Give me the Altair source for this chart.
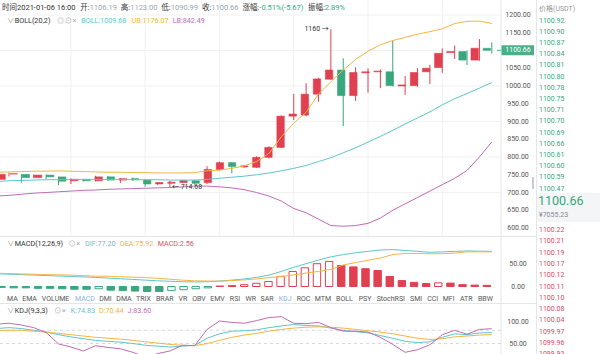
import altair as alt
import pandas as pd

FONT = "Roboto, 'Noto Sans CJK SC', sans-serif"
UP = "#e0404f"
DOWN = "#3aa67e"
TEAL = "#5fc5cb"
ORANGE = "#f3b544"
PURPLE = "#c26bb5"
DARK = "#333333"
LIGHT = "#9aa4b0"
GRAY = "#777777"
GRID = "#f0f1f3"
SEP = "#e4e6ea"

# ---------------- data ----------------
opens = [737, 752, 751, 742, 749, 744, 733, 737, 733, 744, 735, 739, 735, 724, 726, 728, 733,
         728, 765, 784, 772, 771, 799, 827, 915, 918, 977, 1019, 1045, 973, 1037, 1040, 1040,
         1000, 1001, 1040, 1052, 1094, 1097, 1073, 1106.19]
highs = [753, 756, 752, 751, 751, 745, 740, 738, 747, 746, 741, 742, 737, 729, 733, 735, 736,
         774, 787, 786, 778, 802, 830, 917, 978, 1008, 1023, 1160, 1078, 1053, 1050, 1047, 1128,
         1028, 1050, 1060, 1106, 1114, 1100, 1132, 1123.00]
lows = [735, 745, 728, 740, 738, 721, 724, 731, 731, 733, 727, 733, 716, 722, 714.68, 726, 722,
        724, 762, 754, 770, 769, 796, 825, 904, 915, 956, 1018, 887, 958, 981, 994, 999,
        975, 998, 1005, 1037, 1076, 1059, 1071, 1090.99]
closes = [751, 753, 742, 749, 744, 732, 737, 733, 744, 735, 739, 736, 724, 728, 729, 733.5, 726,
          765, 784, 773, 775, 799, 827, 915, 921, 977, 1020, 1045, 973, 1038, 1040, 1042, 1001,
          1003, 1038, 1050, 1092, 1097, 1073, 1106.33, 1100.66]

boll_mid = [731, 733, 734, 735, 736, 736, 737, 737, 737, 737, 737, 736, 736, 736, 735, 735, 735,
            737, 740, 743, 746, 750, 755, 761, 768, 776, 787, 798, 812, 826, 842, 858, 875,
            893, 910, 927, 947, 964, 979, 994, 1009.68]
boll_up = [757, 758, 759, 760, 760, 761, 760, 759, 758, 757, 757, 756, 756, 755, 755, 755, 756,
           761, 763, 768, 775, 787, 810, 857, 895, 926, 977, 1012, 1045, 1075, 1098, 1116, 1128,
           1137, 1146, 1153, 1161, 1176, 1182, 1183, 1176.07]
boll_low = [690, 692, 695, 698, 700, 702, 704, 706, 707, 709, 710, 711, 712, 713, 714, 716, 718,
            718, 716, 713, 708, 700, 690, 676, 655, 643, 625, 607, 605, 607, 613, 628, 650,
            668, 686, 704, 722, 740, 762, 800, 842.49]

dif = [28, 27, 26, 25, 24, 23, 22, 21, 20, 18.5, 17, 15.5, 14, 12.5, 11.5, 10.5, 10,
       10.5, 12, 14, 16.5, 20, 25, 33, 42, 50, 58, 65, 70, 74, 77, 80, 81,
       79, 77, 75, 76, 77, 78, 77.5, 77.20]
dea = [29, 28.5, 27.5, 27, 26, 25.5, 25, 24, 22.5, 22.5, 21.5, 20.5, 19.5, 18, 16, 14, 12.5,
       12, 11.5, 13, 14.5, 16.5, 19.5, 22, 25.5, 29.5, 33, 37.5, 47, 52.5, 57.5, 62.5, 70,
       72.5, 72.5, 71.8, 72, 73.3, 76, 76, 75.92]
macd_hist = [-2, -3, -3, -4, -4, -5, -6, -6, -5, -8, -9, -10, -11, -11, -9, -7, -5,
             -3, 1, 2, 4, 7, 11, 22, 33, 41, 50, 55, 46, 43, 39, 35, 22,
             13, 9, 6.5, 8, 7.5, 4, 3, 2.56]

k_vals = [84, 86, 84, 80, 76, 70, 65, 61, 57, 55, 53, 50, 46, 44, 42, 44, 46,
          62, 72, 78, 79, 81, 86, 90, 93, 91, 90, 85, 80, 77, 74, 68, 62,
          55, 52, 54, 64, 72, 70, 74, 74.83]
d_vals = [79, 80, 80, 78, 76, 73, 70, 67, 64, 62, 60, 57, 54, 51, 48, 46, 45,
          50, 57, 64, 69, 73, 78, 82, 85, 87, 88, 87, 85, 82, 79, 76, 72,
          67, 62, 59, 61, 65, 67, 69, 70.44]
j_vals = [94, 96, 92, 86, 75, 49, 42, 33, 45, 41, 38, 30, 19, 27, 33, 46, 45,
          82, 101, 98, 96, 102, 109, 111, 96, 95, 98, 86, 78, 78, 76, 64, 48,
          30, 36, 47, 70, 80, 71, 82, 83.60]

price_ticks = [600, 650, 700, 750, 800, 850, 900, 950, 1000, 1050, 1100, 1150, 1200]
price_grid = [700, 800, 900, 1000, 1100, 1200]
grid_idx = [6, 12, 18, 24, 30, 36]
macd_ticks = [0, 50]
kdj_ticks = [50, 100]
kdj_dash = [50, 80]

ask_prices = ["1100.92", "1100.90", "1100.87", "1100.84", "1100.81", "1100.80", "1100.78",
              "1100.75", "1100.71", "1100.70", "1100.69", "1100.66", "1100.61", "1100.60",
              "1100.59", "1100.47"]
bid_prices = ["1100.22", "1100.21", "1100.19", "1100.17", "1100.12", "1100.11", "1100.10",
              "1100.08", "1100.04", "1099.97", "1099.96", "1099.93"]
last_price = "1100.66"
last_cny = "¥7055.23"

tabs = ["MA", "EMA", "VOLUME", "MACD", "DMI", "DMA", "TRIX", "BRAR", "VR", "OBV", "EMV", "RSI",
        "WR", "SAR", "KDJ", "ROC", "MTM", "BOLL", "PSY", "StochRSI", "SMI", "CCI", "MFI", "ATR", "BBW"]
active_tabs = ["MACD", "KDJ"]

# ---------------- helpers ----------------
def tw(s, fs):
    w = 0.0
    for ch in s:
        if ord(ch) > 0x2E80:
            w += 1.0
        elif ch.isdigit():
            w += 0.562
        elif ch in ".:, ":
            w += 0.25
        elif ch == "-":
            w += 0.33
        elif ch == "%":
            w += 0.73
        elif ch in "()":
            w += 0.34
        elif ch in "MW":
            w += 0.87
        elif ch == "I":
            w += 0.28
        elif ch.isupper():
            w += 0.64
        elif ch in "il":
            w += 0.24
        elif ch in "tr":
            w += 0.34
        else:
            w += 0.52
    return w * fs


def flow(segs, x0, y, fs):
    rows = []
    x = x0
    for t, col, gap in segs:
        x += gap
        rows.append({"x": x, "y": y, "t": t, "col": col})
        x += tw(t, fs)
    return rows


def px_text(rows, fs, align="left", weight="normal"):
    df = pd.DataFrame(rows)
    return alt.Chart(df).mark_text(font=FONT, fontSize=fs, align=align, baseline="middle",
                                   fontWeight=weight).encode(
        x=alt.X("x:Q", scale=None, axis=None),
        y=alt.Y("y:Q", scale=None, axis=None),
        text="t:N",
        color=alt.Color("col:N", scale=None),
    )


def px_rule(rows, width=1, dash=None):
    df = pd.DataFrame(rows)
    kw = {"strokeWidth": width}
    if dash:
        kw["strokeDash"] = dash
    return alt.Chart(df).mark_rule(**kw).encode(
        x=alt.X("x:Q", scale=None, axis=None), x2="x2:Q",
        y=alt.Y("y:Q", scale=None, axis=None), y2="y2:Q",
        color=alt.Color("col:N", scale=None),
    )


XS = alt.Scale(domain=[0, 40], range=[-3.4, 491.8])
YM = alt.Scale(domain=[600, 1200], range=[228, 15])
YD = alt.Scale(domain=[0, 50], range=[286.5, 263.7])
YK = alt.Scale(domain=[50, 100], range=[343.5, 321.5])

idx = list(range(len(opens)))
X = alt.X("i:Q", scale=XS, axis=None)

layers = []

# background order-book band
layers.append(alt.Chart(pd.DataFrame([{"x": 537, "x2": 600, "y": 193, "y2": 222}])).mark_rect(
    color="#f4f5f7").encode(x=alt.X("x:Q", scale=None, axis=None), x2="x2:Q",
                            y=alt.Y("y:Q", scale=None, axis=None), y2="y2:Q"))

# separators
layers.append(px_rule([
    {"x": 501, "x2": 501, "y": 0, "y2": 354, "col": SEP},
    {"x": 536.5, "x2": 536.5, "y": 0, "y2": 354, "col": SEP},
    {"x": 0, "x2": 536.5, "y": 236.5, "y2": 236.5, "col": SEP},
    {"x": 0, "x2": 536.5, "y": 303.5, "y2": 303.5, "col": SEP},
]))
layers.append(px_rule([{"x": 533, "x2": 533, "y": 177, "y2": 189, "col": "#c9ccd1"}], width=2))

# main grid
layers.append(alt.Chart(pd.DataFrame({"i": grid_idx})).mark_rule(color=GRID, strokeWidth=1).encode(
    x=X, y=alt.value(0), y2=alt.value(236)))
layers.append(alt.Chart(pd.DataFrame({"v": price_grid})).mark_rule(color=GRID, strokeWidth=1).encode(
    y=alt.Y("v:Q", scale=YM, axis=None), x=alt.value(0), x2=alt.value(501)))

# KDJ dashed levels
layers.append(alt.Chart(pd.DataFrame({"v": kdj_dash})).mark_rule(
    color="#d5d8dc", strokeWidth=1, strokeDash=[3, 3]).encode(
    y=alt.Y("v:Q", scale=YK, axis=None), x=alt.value(0), x2=alt.value(501)))

# candles
cand = pd.DataFrame({"i": idx, "o": opens, "h": highs, "l": lows, "c": closes})
cand["col"] = [UP if c >= o else DOWN for o, c in zip(opens, closes)]
layers.append(alt.Chart(cand).mark_rule(strokeWidth=1, clip=True).encode(
    x=X, y=alt.Y("l:Q", scale=YM, axis=None), y2="h:Q", color=alt.Color("col:N", scale=None)))
layers.append(alt.Chart(cand).mark_bar(size=7.4, orient="vertical", clip=True, strokeWidth=0.6).encode(
    x=X, y=alt.Y("o:Q", scale=YM, axis=None), y2="c:Q",
    color=alt.Color("col:N", scale=None), stroke=alt.Stroke("col:N", scale=None)))

# bollinger
boll = pd.DataFrame({"i": idx, "mb": boll_mid, "ub": boll_up, "lb": boll_low})
for fld, col in [("mb", TEAL), ("ub", ORANGE), ("lb", PURPLE)]:
    layers.append(alt.Chart(boll).mark_line(color=col, strokeWidth=1, clip=True).encode(
        x=X, y=alt.Y(f"{fld}:Q", scale=YM, axis=None)))

# high / low annotations
hi_i = highs.index(max(highs))
lo_i = lows.index(min(lows))
ann_hi = pd.DataFrame({"i": [hi_i], "v": [highs[hi_i]], "t": [f"{highs[hi_i]:g} →"]})
ann_lo = pd.DataFrame({"i": [lo_i], "v": [lows[lo_i]], "t": [f"← {lows[lo_i]:.2f}"]})
layers.append(alt.Chart(ann_hi).mark_text(font=FONT, fontSize=7, align="right", baseline="middle",
                                          dx=-2, color=DARK).encode(
    x=X, y=alt.Y("v:Q", scale=YM, axis=None), text="t:N"))
layers.append(alt.Chart(ann_lo).mark_text(font=FONT, fontSize=7, align="left", baseline="middle",
                                          dx=2, color=DARK).encode(
    x=X, y=alt.Y("v:Q", scale=YM, axis=None), text="t:N"))

# MACD
hollow = [False] + [macd_hist[k] > macd_hist[k - 1] for k in range(1, len(macd_hist))]
mdf = pd.DataFrame({"i": idx, "dif": dif, "dea": dea, "h": macd_hist})
mdf["col"] = [UP if v >= 0 else DOWN for v in macd_hist]
mdf["fill"] = ["#ffffff" if hw else c for hw, c in zip(hollow, mdf["col"])]
layers.append(alt.Chart(mdf).mark_bar(size=7.4, orient="vertical", clip=True, strokeWidth=1).encode(
    x=X, y=alt.Y("h:Q", scale=YD, axis=None), y2=alt.datum(0),
    fill=alt.Fill("fill:N", scale=None), stroke=alt.Stroke("col:N", scale=None)))
for fld, col in [("dif", TEAL), ("dea", ORANGE)]:
    layers.append(alt.Chart(mdf).mark_line(color=col, strokeWidth=1, clip=True).encode(
        x=X, y=alt.Y(f"{fld}:Q", scale=YD, axis=None)))

# KDJ
kdf = pd.DataFrame({"i": idx, "k": k_vals, "d": d_vals, "j": j_vals})
for fld, col in [("k", TEAL), ("d", ORANGE), ("j", PURPLE)]:
    layers.append(alt.Chart(kdf).mark_line(color=col, strokeWidth=1, clip=True).encode(
        x=X, y=alt.Y(f"{fld}:Q", scale=YK, axis=None)))

# axis labels
for ticks, sc in [(price_ticks, YM), (macd_ticks, YD), (kdj_ticks, YK)]:
    tdf = pd.DataFrame({"v": ticks, "t": [f"{v:.2f}" for v in ticks]})
    layers.append(alt.Chart(tdf).mark_text(font=FONT, fontSize=7, align="center", baseline="middle",
                                           color="#555555").encode(
        x=alt.value(518), y=alt.Y("v:Q", scale=sc, axis=None), text="t:N"))

# last price tag
tag = pd.DataFrame({"v": [closes[-1]], "t": [f"{closes[-1]:.2f}"]})
layers.append(alt.Chart(tag).mark_rule(color="#4caf88", strokeWidth=10).encode(
    x=alt.value(501.5), x2=alt.value(534), y=alt.Y("v:Q", scale=YM, axis=None)))
layers.append(alt.Chart(tag).mark_rule(color="#4caf88", strokeWidth=1).encode(
    x=alt.value(497), x2=alt.value(501), y=alt.Y("v:Q", scale=YM, axis=None)))
layers.append(alt.Chart(tag).mark_text(font=FONT, fontSize=7, align="center", baseline="middle",
                                       color="#ffffff").encode(
    x=alt.value(518), y=alt.Y("v:Q", scale=YM, axis=None), text="t:N"))

# header texts
GREEN_T = "#2fae80"
FS = 7.2
FS1 = 7.5
line1 = flow([("时间", DARK, 0), ("2021-01-06 16:00", DARK, 0),
              ("开:", DARK, 4), (f"{opens[-1]:.2f}", LIGHT, 0),
              ("高:", DARK, 4), (f"{highs[-1]:.2f}", LIGHT, 0),
              ("低:", DARK, 4), (f"{lows[-1]:.2f}", LIGHT, 0),
              ("收:", DARK, 4), (f"{closes[-1]:.2f}", LIGHT, 0),
              ("涨幅:", DARK, 4), ("-0.51%(-5.67)", GREEN_T, 0),
              ("振幅:", DARK, 4), ("2.89%", GREEN_T, 0)], 2, 8, FS1)
layers.append(px_text(line1, FS1))

line2 = flow([("∨", "#999999", 0), ("BOLL(20,2)", DARK, 4), ("◎", "#aaaaaa", 5), ("⊙", "#aaaaaa", 4),
              ("×", "#aaaaaa", 4), (f"BOLL:{boll_mid[-1]:.2f}", TEAL, 5),
              (f"UB:{boll_up[-1]:.2f}", ORANGE, 4), (f"LB:{boll_low[-1]:.2f}", PURPLE, 4)], 7, 20.5, FS)
layers.append(px_text(line2, FS))

line3 = flow([("∨", "#999999", 0), ("MACD(12,26,9)", DARK, 4), ("⊙", "#aaaaaa", 5),
              ("×", "#aaaaaa", 4), (f"DIF:{dif[-1]:.2f}", TEAL, 5),
              (f"DEA:{dea[-1]:.2f}", ORANGE, 4), (f"MACD:{macd_hist[-1]:.2f}", "#d9506a", 4)], 7, 243.5, FS)
layers.append(px_text(line3, FS))

line4 = flow([("∨", "#999999", 0), ("KDJ(9,3,3)", DARK, 4), ("⊙", "#aaaaaa", 5),
              ("×", "#aaaaaa", 4), (f"K:{k_vals[-1]:.2f}", TEAL, 5),
              (f"D:{d_vals[-1]:.2f}", ORANGE, 4), (f"J:{j_vals[-1]:.2f}", PURPLE, 4)], 7, 310.5, FS)
layers.append(px_text(line4, FS))

# indicator tabs
TFS = 7
widths = [tw(t, TFS) for t in tabs]
gap = (493 - 7 - sum(widths)) / (len(tabs) - 1)
trows = []
x = 7
for t, w in zip(tabs, widths):
    trows.append({"x": x, "y": 298.5, "t": t, "col": "#8ab2e6" if t in active_tabs else "#555555"})
    x += w + gap
layers.append(px_text(trows, TFS))

# order book
ob = [{"x": 539, "y": 9, "t": "价格(USDT)", "col": "#999999"}]
for k, p in enumerate(ask_prices):
    ob.append({"x": 539, "y": 20.5 + 11.2 * k, "t": p, "col": "#3aa57c"})
for k, p in enumerate(bid_prices):
    ob.append({"x": 539, "y": 230 + 11.3 * k, "t": p, "col": "#d44d62"})
ob.append({"x": 539, "y": 214.5, "t": last_cny, "col": "#888888"})
layers.append(px_text(ob, 7))
layers.append(px_text([{"x": 538, "y": 201, "t": last_price, "col": "#3aa57c"}], 12.5))

chart = alt.layer(*layers).resolve_scale(x="independent", y="independent").properties(
    width=600, height=354, padding=0, autosize=alt.AutoSizeParams(type="none"),
    background="#ffffff",
).configure_view(stroke=None)

chart.save("out.html", embed_options={"renderer": "svg", "actions": False})
